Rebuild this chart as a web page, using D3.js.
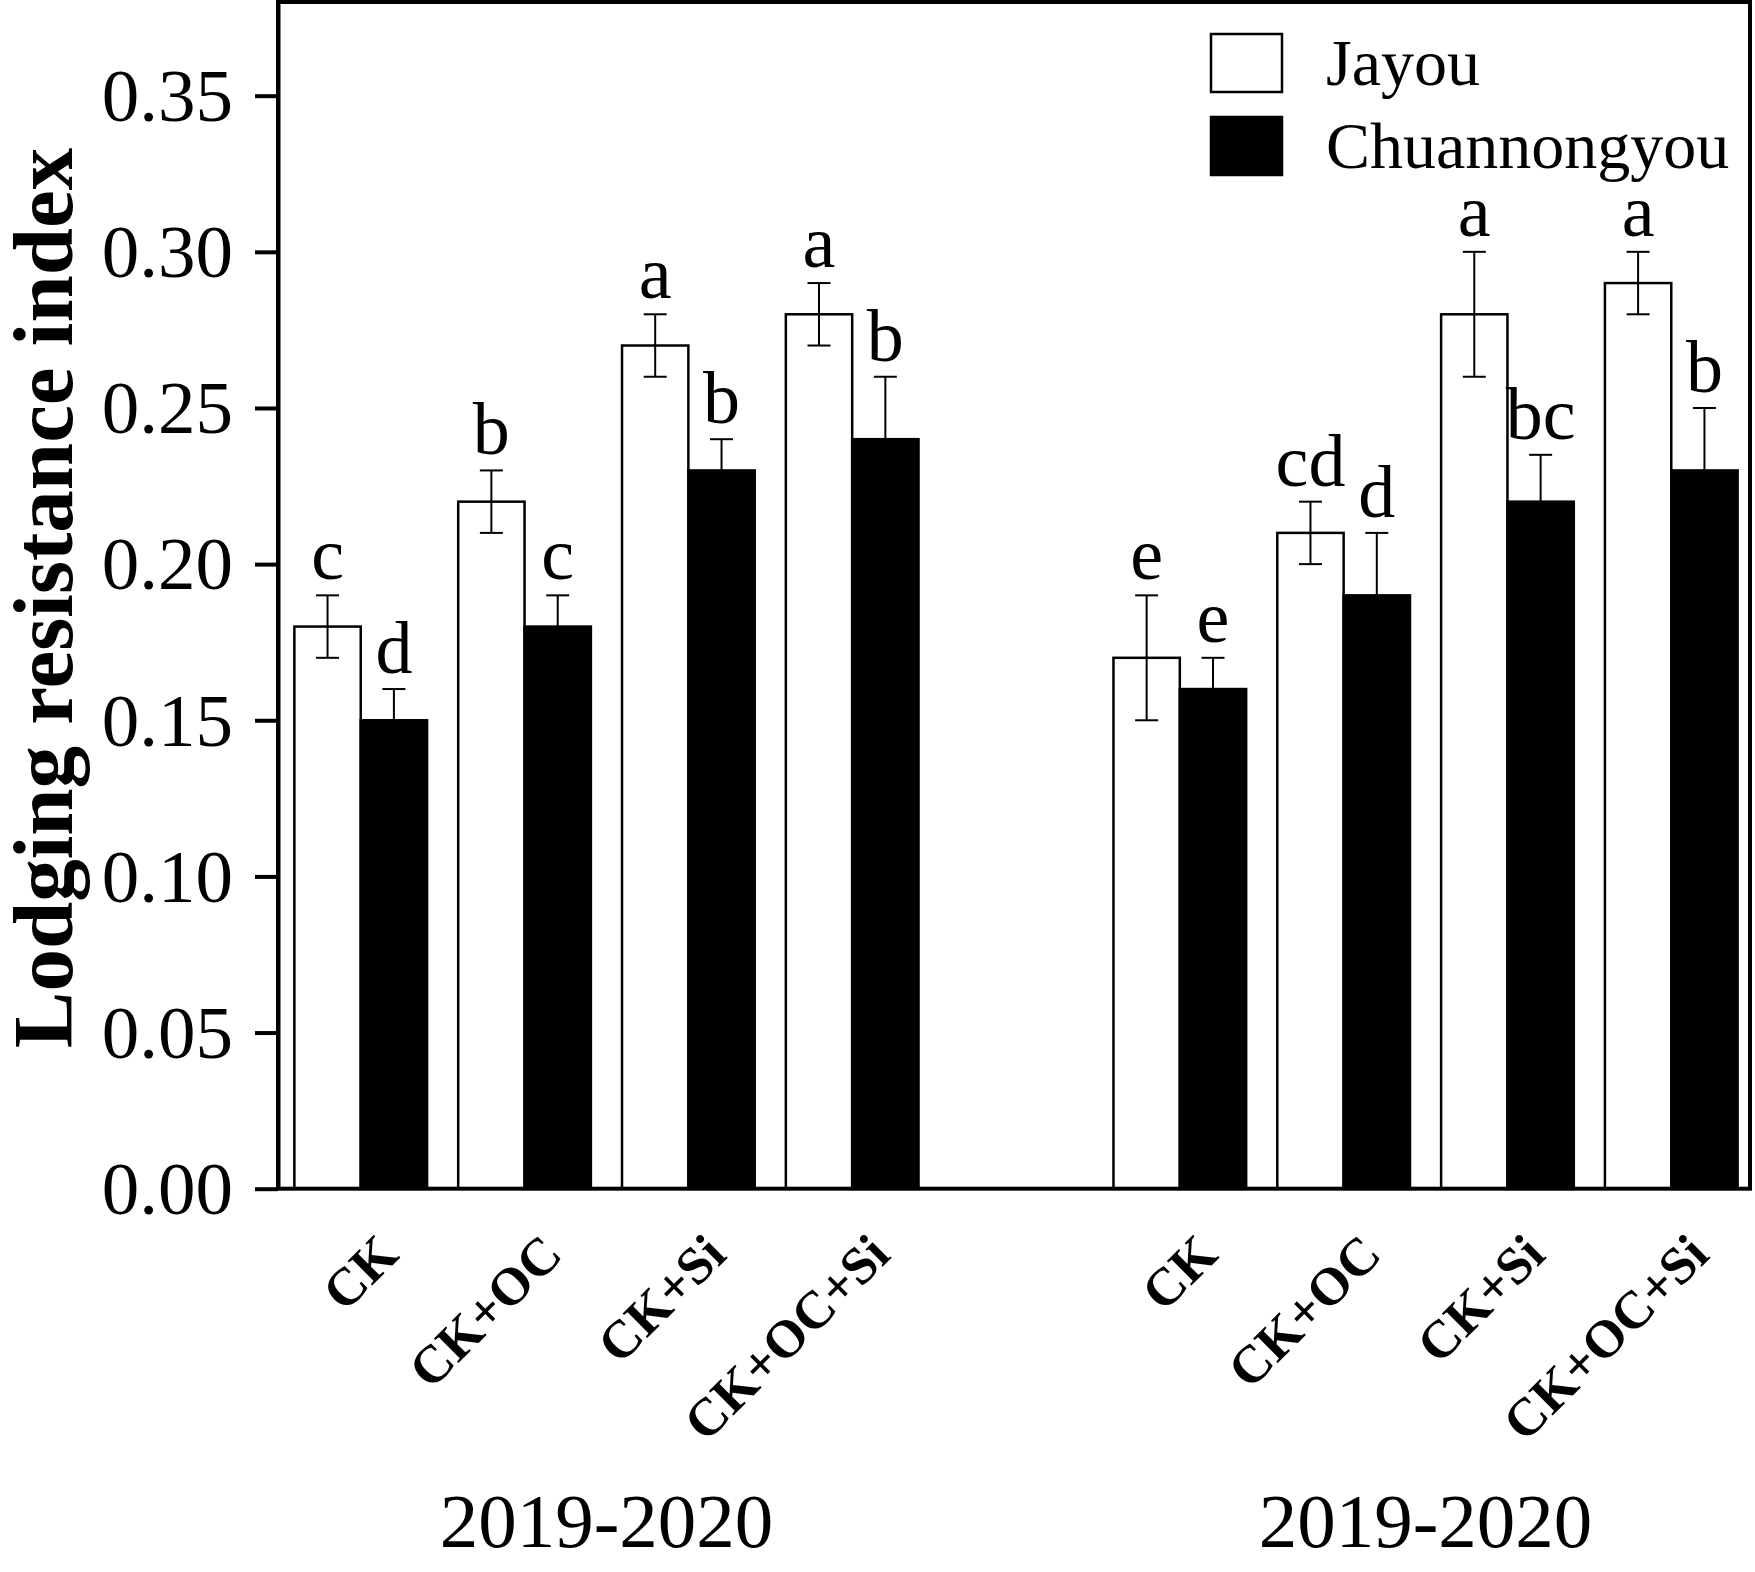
<!DOCTYPE html>
<html>
<head>
<meta charset="utf-8">
<script src="https://cdn.jsdelivr.net/npm/d3@7"></script>
<style>
  body { margin: 0; background: #fff; }
  text { font-family: "Liberation Serif", "Times New Roman", serif; }
</style>
</head>
<body>
<div id="showBox"></div>
<script>
// data
const seasons = ["2019-2020", "2019-2020"];
const treatments = ["CK", "CK+OC", "CK+Si", "CK+OC+Si"];
const varieties = ["Jayou", "Chuannongyou"];

const jayouMean = [0.18, 0.22, 0.27, 0.28, 0.17, 0.21, 0.28, 0.29];
const jayouErr = [0.01, 0.01, 0.01, 0.01, 0.02, 0.01, 0.02, 0.01];
const jayouLetters = ["c", "b", "a", "a", "e", "cd", "a", "a"];

const chuanMean = [0.15, 0.18, 0.23, 0.24, 0.16, 0.19, 0.22, 0.23];
const chuanErr = [0.01, 0.01, 0.01, 0.02, 0.01, 0.02, 0.015, 0.02];
const chuanLetters = ["d", "c", "b", "b", "e", "d", "bc", "b"];

const yTicks = [0, 0.05, 0.10, 0.15, 0.20, 0.25, 0.30, 0.35];

const W = 1755, H = 1572;
const plotLeft = 278, plotRight = 1750, plotTop = 2, plotBottom = 1188.7;

// one slot per treatment, with an empty slot between the seasons
const slots = [];
seasons.forEach((s, i) => {
    if (i > 0) slots.push("gap");
    treatments.forEach(t => slots.push(i + "|" + t));
});

const rows = [];
seasons.forEach((s, i) => {
    treatments.forEach((t, j) => {
        const k = i * treatments.length + j;
        rows.push({season: i, key: i + "|" + t, treat: t, variety: "Jayou",
            v: jayouMean[k], e: jayouErr[k], letter: jayouLetters[k]});
        rows.push({season: i, key: i + "|" + t, treat: t, variety: "Chuannongyou",
            v: chuanMean[k], e: chuanErr[k], letter: chuanLetters[k]});
    });
});

const x = d3.scaleBand()
    .domain(slots)
    .range([plotLeft, 1754])
    .paddingInner(0.19)
    .paddingOuter(0.1);

const xv = d3.scaleBand()
    .domain(varieties)
    .range([0, x.bandwidth()]);

const y = d3.scaleLinear()
    .domain([0, 0.38])
    .range([plotBottom, plotTop]);

const fill = d3.scaleOrdinal().domain(varieties).range(["#fff", "#000"]);

const svg = d3.select("#showBox").append("svg")
    .attr("width", W)
    .attr("height", H)
    .attr("viewBox", `0 0 ${W} ${H}`);

svg.append("rect").attr("width", W).attr("height", H).attr("fill", "#fff");

// bars
svg.append("g")
    .selectAll("rect")
    .data(rows)
    .join("rect")
    .attr("x", d => x(d.key) + xv(d.variety))
    .attr("y", d => y(d.v))
    .attr("width", xv.bandwidth())
    .attr("height", d => y(0) - y(d.v))
    .attr("fill", d => fill(d.variety))
    .attr("stroke", "#000")
    .attr("stroke-width", 2.5);

// error bars
const cap = 11.5;
const eb = svg.append("g")
    .attr("stroke", "#000")
    .attr("stroke-width", 2)
    .selectAll("g")
    .data(rows)
    .join("g")
    .attr("transform", d => `translate(${x(d.key) + xv(d.variety) + xv.bandwidth() / 2},0)`);

eb.append("line")
    .attr("y1", d => y(d.v - d.e))
    .attr("y2", d => y(d.v + d.e));
eb.append("line")
    .attr("x1", -cap).attr("x2", cap)
    .attr("y1", d => y(d.v + d.e))
    .attr("y2", d => y(d.v + d.e));
eb.append("line")
    .attr("x1", -cap).attr("x2", cap)
    .attr("y1", d => y(d.v - d.e))
    .attr("y2", d => y(d.v - d.e));

// significance letters
svg.append("g")
    .attr("font-size", 74)
    .attr("text-anchor", "middle")
    .selectAll("text")
    .data(rows)
    .join("text")
    .attr("x", d => x(d.key) + xv(d.variety) + xv.bandwidth() / 2)
    .attr("y", d => y(d.v + d.e) - 16)
    .text(d => d.letter);

// frame
svg.append("rect")
    .attr("x", plotLeft).attr("y", plotTop)
    .attr("width", plotRight - plotLeft).attr("height", plotBottom - plotTop)
    .attr("fill", "none")
    .attr("stroke", "#000")
    .attr("stroke-width", 4);

// y axis
const yAxis = svg.append("g")
    .attr("transform", `translate(${plotLeft},0)`)
    .call(d3.axisLeft(y).tickValues(yTicks).tickFormat(d3.format(".2f"))
        .tickSize(23).tickSizeOuter(0).tickPadding(22));
yAxis.select(".domain").attr("stroke-width", 4);
yAxis.selectAll(".tick line").attr("stroke-width", 4);
yAxis.selectAll(".tick text")
    .attr("font-family", "Liberation Serif, Times New Roman, serif")
    .attr("font-size", 75)
    .attr("dy", "0.33em")
    .attr("fill", "#000");

svg.append("text")
    .attr("transform", "translate(72,598) rotate(-90)")
    .attr("text-anchor", "middle")
    .attr("font-size", 85)
    .attr("font-weight", "bold")
    .text("Lodging resistance index");

// treatment labels
svg.append("g")
    .attr("font-size", 53)
    .attr("font-weight", "bold")
    .attr("text-anchor", "end")
    .selectAll("text")
    .data(slots.filter(s => s !== "gap"))
    .join("text")
    .attr("transform", d => `translate(${x(d) + x.bandwidth() / 2 + 40},1257) rotate(-45)`)
    .text(d => d.split("|")[1]);

// season labels
svg.append("g")
    .attr("font-size", 77)
    .attr("text-anchor", "middle")
    .selectAll("text")
    .data(seasons)
    .join("text")
    .attr("x", (s, i) => {
        const a = x(i + "|" + treatments[0]);
        const b = x(i + "|" + treatments[treatments.length - 1]) + x.bandwidth();
        return (a + b) / 2;
    })
    .attr("y", 1547)
    .text(d => d);

// legend
const lg = svg.append("g").attr("transform", "translate(1211,34)");
const item = lg.selectAll("g")
    .data(varieties)
    .join("g")
    .attr("transform", (d, i) => `translate(0,${i * 83})`);
item.append("rect")
    .attr("width", 71).attr("height", 58)
    .attr("fill", d => fill(d))
    .attr("stroke", "#000")
    .attr("stroke-width", 2.5);
item.append("text")
    .attr("x", 115)
    .attr("y", 51)
    .attr("font-size", 66)
    .text(d => d);
</script>
</body>
</html>
